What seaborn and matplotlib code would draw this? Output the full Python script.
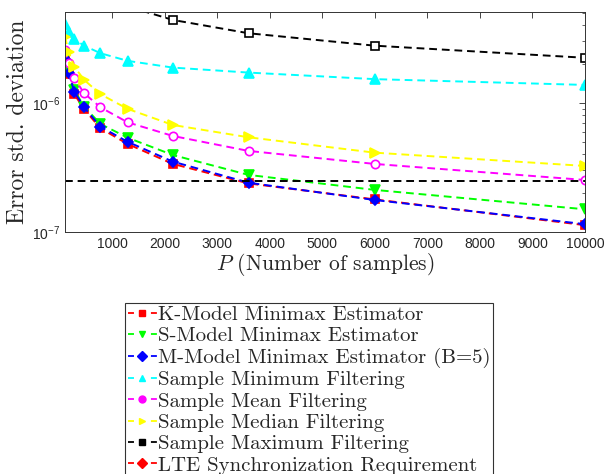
import numpy as np
import pandas as pd
import seaborn as sns
import matplotlib
matplotlib.use("Agg")
from matplotlib import pyplot as plt
from matplotlib.lines import Line2D

# number of samples P
P = [100, 167, 278, 464, 774, 1292, 2154, 3594, 5995, 10000]

k_model = [2.18e-6, 1.68e-6, 1.17e-6, 0.894e-6, 0.637e-6, 0.481e-6, 0.337e-6, 0.238e-6, 0.179e-6, 0.113e-6]
s_model = [2.22e-6, 1.75e-6, 1.26e-6, 0.936e-6, 0.688e-6, 0.538e-6, 0.395e-6, 0.277e-6, 0.212e-6, 0.150e-6]
m_model = [2.20e-6, 1.70e-6, 1.22e-6, 0.926e-6, 0.655e-6, 0.500e-6, 0.351e-6, 0.241e-6, 0.177e-6, 0.115e-6]
min_filt = [4.10e-6, 3.57e-6, 3.12e-6, 2.78e-6, 2.43e-6, 2.12e-6, 1.88e-6, 1.72e-6, 1.53e-6, 1.38e-6]
mean_filt = [2.58e-6, 2.03e-6, 1.55e-6, 1.19e-6, 0.926e-6, 0.708e-6, 0.555e-6, 0.425e-6, 0.337e-6, 0.253e-6]
median_filt = [3.27e-6, 2.50e-6, 1.91e-6, 1.51e-6, 1.17e-6, 0.900e-6, 0.675e-6, 0.542e-6, 0.412e-6, 0.325e-6]
max_filt = [1.35e-5, 1.14e-5, 9.4e-6, 7.8e-6, 6.6e-6, 5.6e-6, 4.4e-6, 3.47e-6, 2.78e-6, 2.24e-6]
lte_req = 2.5e-7

labels = ["K-Model Minimax Estimator",
          "S-Model Minimax Estimator",
          "M-Model Minimax Estimator (B=5)",
          "Sample Minimum Filtering",
          "Sample Mean Filtering",
          "Sample Median Filtering",
          "Sample Maximum Filtering",
          "LTE Synchronization Requirement"]

sns.set_style("white")
plt.rcParams["font.family"] = ["cmr10", "DejaVu Serif"]
plt.rcParams["mathtext.fontset"] = "cm"
plt.rcParams["axes.formatter.use_mathtext"] = True

fig = plt.figure(figsize=(6.13, 4.74), dpi=100)
ax = fig.add_axes([65/613, 1-232/474, 520/613, 220/474])

series = [
    (k_model, "red", "s", "red"),
    (s_model, "lime", "v", "lime"),
    (m_model, "blue", "D", "blue"),
    (min_filt, "cyan", "^", "cyan"),
    (mean_filt, "magenta", "o", "white"),
    (median_filt, "yellow", ">", "yellow"),
    (max_filt, "black", "s", "white"),
]
sizes = [6, 7, 5, 7, 6, 7, 6]
for (vals, col, mk, face), ms in zip(series, sizes):
    sns.lineplot(x=P, y=vals, ax=ax, color=col, marker=mk, markersize=ms,
                 markerfacecolor=face, markeredgecolor=col, markeredgewidth=1.2,
                 linewidth=1.4, dashes=False, linestyle=(0, (4, 2.5)))

sns.lineplot(x=P, y=np.full(len(P), lte_req), ax=ax, color="black",
             linewidth=1.4, linestyle=(0, (4, 2.5)))

ax.set_yscale("log")
ax.set_xlim(100, 10000)
ax.set_ylim(1e-7, 5.07e-6)
ax.set_xticks([1000, 2000, 3000, 4000, 5000, 6000, 7000, 8000, 9000, 10000])
ax.set_xticklabels([str(v) for v in ax.get_xticks().astype(int)])
ax.tick_params(which="both", direction="in", top=True, right=True, labelsize=10)
ax.tick_params(which="major", length=4, width=0.6)
ax.tick_params(which="minor", length=2.5, width=0.5)
ax.tick_params(axis="x", which="minor", bottom=False, top=False)
for lab in ax.get_xticklabels() + ax.get_yticklabels():
    lab.set_fontfamily(["Liberation Sans", "DejaVu Sans"])
for sp in ax.spines.values():
    sp.set_linewidth(0.7)
    sp.set_color("#333333")

ax.set_xlabel("$P$ (Number of samples)", fontsize=15.5, labelpad=0)
ax.set_ylabel("Error std. deviation", fontsize=17, labelpad=2)

hcols = ["red", "lime", "blue", "cyan", "magenta", "yellow", "black", "red"]
hmarks = ["s", "v", "D", "^", "o", ">", "s", "D"]
handles = [Line2D([], [], color=c, marker=m, markersize=5, linestyle=(0, (3.3, 9.4)),
                  linewidth=1.3, markerfacecolor=c, markeredgecolor=c)
           for c, m in zip(hcols, hmarks)]
leg = fig.legend(handles, labels, loc="upper left",
                 bbox_to_anchor=(125/613, 1-303/474), fontsize=15,
                 frameon=True, fancybox=False, edgecolor="black",
                 handlelength=1.4, handletextpad=0.05, labelspacing=0.13,
                 borderpad=0.12, borderaxespad=0)
leg.get_frame().set_linewidth(0.8)

fig.savefig("out.png", dpi=100)
